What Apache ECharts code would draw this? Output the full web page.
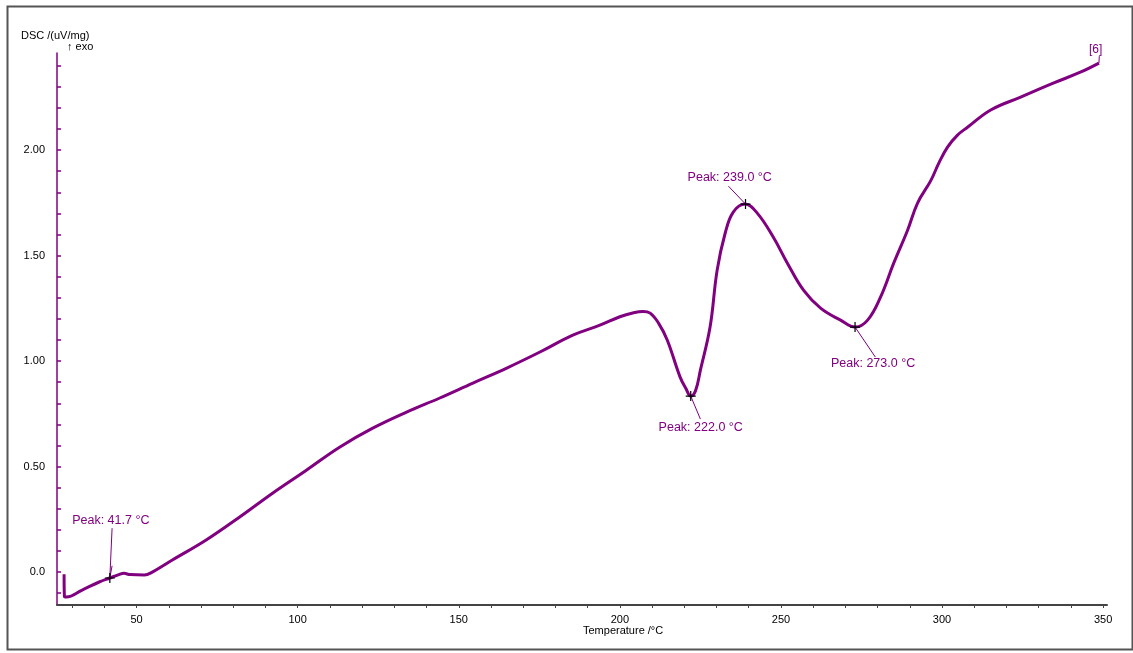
<!DOCTYPE html>
<html>
<head>
<meta charset="utf-8">
<script src="https://cdn.jsdelivr.net/npm/echarts@6/dist/echarts.min.js"></script>
<style>
html,body{margin:0;padding:0;background:#fff;}
#c{width:1133px;height:653px;}
</style>
</head>
<body>
<div id="c"></div>
<script>
// Temperature (°C)
const temps = [27.5, 27.6, 28.2, 33.1, 38.4, 41.7, 44.5, 46.1, 48.0, 52.4, 54.9, 61.1, 71.6, 81.9, 92.2, 102.7, 113.0, 123.3, 133.8, 144.1, 154.4, 164.9, 175.2, 185.4, 193.8, 200.0, 204.0, 207.2, 209.4, 212.0, 214.7, 218.7, 220.5, 222.0, 223.5, 225.0, 228.0, 230.2, 232.7, 235.2, 238.9, 242.7, 247.6, 252.0, 257.0, 262.3, 268.5, 273.1, 276.9, 280.9, 285.0, 289.3, 292.4, 296.5, 299.0, 301.7, 304.8, 308.0, 315.1, 324.4, 334.7, 343.1, 348.7];
// DSC signal (uV/mg)
const dsc = [-0.010, -0.115, -0.118, -0.085, -0.047, -0.028, -0.012, -0.006, -0.012, -0.014, 0.000, 0.057, 0.152, 0.260, 0.374, 0.483, 0.592, 0.682, 0.758, 0.825, 0.896, 0.967, 1.043, 1.123, 1.170, 1.210, 1.228, 1.235, 1.227, 1.180, 1.100, 0.924, 0.870, 0.834, 0.860, 0.957, 1.161, 1.431, 1.607, 1.706, 1.744, 1.700, 1.588, 1.464, 1.336, 1.251, 1.194, 1.161, 1.194, 1.303, 1.464, 1.620, 1.749, 1.855, 1.938, 2.014, 2.071, 2.109, 2.190, 2.251, 2.318, 2.370, 2.412];
// Peaks
const peakTemps = [41.7, 222.0, 239.0, 273.0];
const peakVals = [-0.028, 0.834, 1.744, 1.161];
// Tick labels
const xTickLabels = [50, 100, 150, 200, 250, 300, 350];
const yTickLabels = [0, 0.5, 1.0, 1.5, 2.0];
const xMinorTicks = [30, 40, 50, 60, 70, 80, 90, 100, 110, 120, 130, 140, 150, 160, 170, 180, 190, 200, 210, 220, 230, 240, 250, 260, 270, 280, 290, 300, 310, 320, 330, 340, 350];
const yMinorTicks = [-0.1, 0, 0.1, 0.2, 0.3, 0.4, 0.5, 0.6, 0.7, 0.8, 0.9, 1.0, 1.1, 1.2, 1.3, 1.4, 1.5, 1.6, 1.7, 1.8, 1.9, 2.0, 2.1, 2.2, 2.3, 2.4];
const curveName = '[6]';

// Annotation anchors (data coordinates)
const peakLabelAt = [[42.0, 0.242], [225.1, 0.687], [234.1, 1.872], [278.6, 0.990]];
const peakLeaderEnd = [[42.4, 0.208], [225.0, 0.725], [233.7, 1.829], [279.3, 1.019]];

const PURPLE = '#800080';
const FONT = 'Liberation Sans, Arial, sans-serif';

const data = temps.map((t, i) => [t, dsc[i]]);
const last = data[data.length - 1];

const markData = [];
peakTemps.forEach((t, i) => {
  markData.push({
    coord: [t, peakVals[i]],
    symbol: 'path://M5 0 L5 10 M0 5 L10 5',
    symbolSize: 10,
    itemStyle: {color: 'none', borderColor: '#000', borderWidth: 1.2},
    label: {show: false}
  });
  markData.push({
    coord: peakLabelAt[i],
    symbol: 'circle',
    symbolSize: 0,
    label: {show: true, position: 'inside', formatter: 'Peak: ' + t.toFixed(1) + ' °C',
      color: PURPLE, fontSize: 12.5, fontFamily: FONT}
  });
});

const lineData = peakTemps.map((t, i) => [{coord: [t, peakVals[i]]}, {coord: peakLeaderEnd[i]}]);
lineData.push([{coord: [peakTemps[0], peakVals[0]]}, {coord: [peakLeaderEnd[0][0], 0.03]}]);
lineData.push([{coord: last}, {coord: [last[0] + 0.1, 2.445]}]);

const chart = echarts.init(document.getElementById('c'), null, {renderer: 'canvas'});
chart.setOption({
  animation: false,
  backgroundColor: '#fff',
  grid: {left: 57, right: 26, top: 53, bottom: 48, containLabel: false},
  graphic: [
    {type: 'rect', left: 5, top: 4, shape: {width: 1125, height: 643}, style: {fill: 'none', stroke: '#555', lineWidth: 2}, silent: true},
    {type: 'text', left: 21, top: 30, style: {text: 'DSC /(uV/mg)', fill: '#000', font: '11px ' + FONT}},
    {type: 'text', left: 67, top: 41, style: {text: '↑ exo', fill: '#000', font: '11px ' + FONT}},
    {type: 'text', left: 583, top: 625, style: {text: 'Temperature /°C', fill: '#000', font: '11px ' + FONT}},
    {type: 'text', left: 1089, top: 44, style: {text: curveName, fill: PURPLE, font: '12px ' + FONT}}
  ],
  xAxis: {
    type: 'value',
    min: 25.3,
    max: 351.2,
    axisLine: {show: true, onZero: false, lineStyle: {color: '#444', width: 2}},
    axisTick: {show: true, inside: false, length: 3, customValues: xMinorTicks, lineStyle: {color: '#444', width: 1}},
    axisLabel: {show: true, customValues: xTickLabels, color: '#000', fontSize: 11, fontFamily: FONT, margin: 9},
    splitLine: {show: false}
  },
  yAxis: {
    type: 'value',
    min: -0.156,
    max: 2.46,
    axisLine: {show: true, onZero: false, lineStyle: {color: PURPLE, width: 1.5}},
    axisTick: {show: true, inside: true, length: 4, customValues: yMinorTicks, lineStyle: {color: PURPLE, width: 1.5}},
    axisLabel: {show: true, customValues: yTickLabels, color: '#000', fontSize: 11, fontFamily: FONT, margin: 12,
      formatter: v => (Math.abs(v) < 1e-9 ? '0.0' : v.toFixed(2))},
    splitLine: {show: false}
  },
  series: [{
    type: 'line',
    data: data,
    showSymbol: false,
    smooth: 0.4,
    clip: false,
    lineStyle: {color: PURPLE, width: 3},
    markPoint: {silent: true, data: markData},
    markLine: {silent: true, symbol: ['none', 'none'], label: {show: false},
      lineStyle: {color: PURPLE, width: 1, type: 'solid'}, data: lineData}
  }]
});
</script>
</body>
</html>
